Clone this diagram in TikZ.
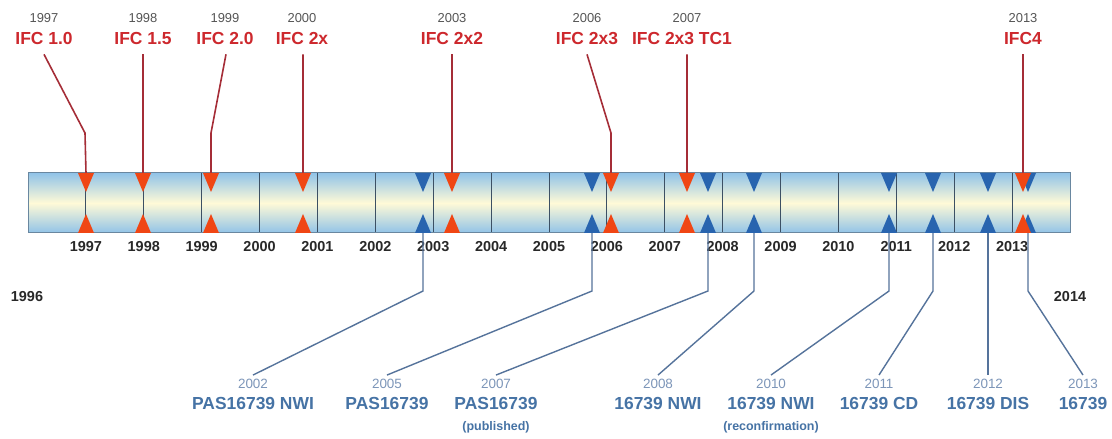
\documentclass[tikz,border=0pt]{standalone}
\usepackage{fontspec}
\setmainfont{Liberation Sans}
\definecolor{ifcred}{RGB}{205,40,45}
\definecolor{topgray}{RGB}{85,85,85}
\definecolor{redlinec}{RGB}{165,45,55}
\definecolor{trired}{RGB}{240,70,20}
\definecolor{triblue}{RGB}{40,100,175}
\definecolor{isoblue}{RGB}{70,115,165}
\definecolor{isoyearc}{RGB}{125,150,185}
\definecolor{bluelinec}{RGB}{85,115,155}
\definecolor{barblue}{RGB}{145,195,232}
\definecolor{baryellow}{RGB}{255,250,215}
\definecolor{barborder}{RGB}{105,135,160}
\definecolor{divc}{RGB}{60,80,100}
\definecolor{axisc}{RGB}{40,40,40}
\begin{document}
\begin{tikzpicture}[x=1bp,y=-1bp,
  ifcname/.style={font=\fontsize{17.5}{19}\selectfont\bfseries, text=ifcred, inner sep=0},
  ifcyear/.style={font=\fontsize{13}{15}\selectfont, text=topgray, inner sep=0},
  isoname/.style={font=\fontsize{17.5}{19}\selectfont\bfseries, text=isoblue, inner sep=0},
  isoyear/.style={font=\fontsize{13.5}{15}\selectfont, text=isoyearc, inner sep=0},
  isonote/.style={font=\fontsize{12.5}{13}\selectfont\bfseries, text=isoblue, inner sep=0},
  axisyear/.style={font=\fontsize{14.5}{16}\selectfont\bfseries, text=axisc, inner sep=0},
  redlink/.style={draw=redlinec, line width=1.6},
  bluelink/.style={draw=bluelinec, line width=1.4},
  pics/tridown/.style={code={\fill[#1] (-8,0) -- (8,0) -- (0,19) -- cycle;}},
  pics/triup/.style={code={\fill[#1] (-8,0) -- (8,0) -- (0,-19) -- cycle;}},
]
\useasboundingbox[fill=white] (0,0) rectangle (1112,439);

% bar
\shade[top color=barblue, bottom color=barblue, middle color=baryellow] (28,173) rectangle (1070,233);
\foreach \i in {1,...,17}{
  \pgfmathsetmacro\xx{28+57.889*\i}
  \pgfmathtruncatemacro\yr{1996+\i}
  \draw[divc, line width=0.9] (\xx,173) -- (\xx,233);
  \node[axisyear] (ax\yr) at (\xx,247) {\yr};
}
\draw[barborder, line width=1] (28,173) rectangle (1070,233);
\node[axisyear] (ax1996) at (27,297) {1996};
\node[axisyear] (ax2014) at (1070,297) {2014};

% top IFC labels
\node[ifcyear] (ty97) at (44,18) {1997};   \node[ifcname] (tn97) at (44,39) {IFC 1.0};
\node[ifcyear] (ty98) at (143,18) {1998};  \node[ifcname] (tn98) at (143,39) {IFC 1.5};
\node[ifcyear] (ty99) at (225,18) {1999};  \node[ifcname] (tn99) at (225,39) {IFC 2.0};
\node[ifcyear] (ty00) at (302,18) {2000};  \node[ifcname] (tn00) at (302,39) {IFC 2x};
\node[ifcyear] (ty03) at (452,18) {2003};  \node[ifcname] (tn03) at (452,39) {IFC 2x2};
\node[ifcyear] (ty06) at (587,18) {2006};  \node[ifcname] (tn06) at (587,39) {IFC 2x3};
\node[ifcyear] (ty07) at (687,18) {2007};  \node[ifcname] (tn07) at (682,39) {IFC 2x3 TC1};
\node[ifcyear] (ty13) at (1023,18) {2013}; \node[ifcname] (tn13) at (1023,39) {IFC4};

% red triangle anchors
\foreach \n/\x in {97/86,98/143,99/211,00/303,03/452,06/611,07/687,13/1023}{
  \coordinate (rt\n) at (\x,173);
  \coordinate (rb\n) at (\x,233);
}
\coordinate (kb97) at (85,133);
\coordinate (kb99) at (211,133);
\coordinate (kb06) at (611,133);

\draw[redlink] ([yshift=-9]tn97.south) -- (kb97) -- (rt97);
\draw[redlink] ([yshift=-9]tn98.south) -- (rt98);
\draw[redlink] ([xshift=1,yshift=-9]tn99.south) -- (kb99) -- (rt99);
\draw[redlink] ([xshift=1,yshift=-9]tn00.south) -- (rt00);
\draw[redlink] ([yshift=-9]tn03.south) -- (rt03);
\draw[redlink] ([yshift=-9]tn06.south) -- (kb06) -- (rt06);
\draw[redlink] ([xshift=5,yshift=-9]tn07.south) -- (rt07);
\draw[redlink] ([yshift=-9]tn13.south) -- (rt13);

% bottom ISO labels
\node[isoyear] (by02) at (253,384) {2002};  \node[isoname] (bn02) at (253,404) {PAS16739 NWI};
\node[isoyear] (by05) at (387,384) {2005};  \node[isoname] (bn05) at (387,404) {PAS16739};
\node[isoyear] (by07) at (496,384) {2007};  \node[isoname] (bn07) at (496,404) {PAS16739};
\node[isonote] (bp07) at (496,427) {(published)};
\node[isoyear] (by08) at (658,384) {2008};  \node[isoname] (bn08) at (658,404) {16739 NWI};
\node[isoyear] (by10) at (771,384) {2010};  \node[isoname] (bn10) at (771,404) {16739 NWI};
\node[isonote] (bp10) at (771,427) {(reconfirmation)};
\node[isoyear] (by11) at (879,384) {2011};  \node[isoname] (bn11) at (879,404) {16739 CD};
\node[isoyear] (by12) at (988,384) {2012};  \node[isoname] (bn12) at (988,404) {16739 DIS};
\node[isoyear] (by13) at (1083,384) {2013}; \node[isoname] (bn13) at (1083,404) {16739};

\foreach \n/\x in {02/423,05/592,07/708,08/754,10/889,11/933,12/988,13/1028}{
  \coordinate (bt\n) at (\x,173);
  \coordinate (bb\n) at (\x,233);
  \coordinate (kk\n) at (\x,291);
}
\foreach \n in {02,05,07,08,10,11,13}{
  \draw[bluelink] (bb\n) -- (kk\n) -- ([yshift=4]by\n.north);
}
\draw[bluelink] (bb12) -- ([yshift=4]by12.north);

% triangles
\foreach \n in {02,05,07,08,10,11,12,13}{
  \pic at (bt\n) {tridown=triblue};
  \pic at (bb\n) {triup=triblue};
}
\foreach \n in {97,98,99,00,03,06,07,13}{
  \pic at (rt\n) {tridown=trired};
  \pic at (rb\n) {triup=trired};
}
\end{tikzpicture}
\end{document}
